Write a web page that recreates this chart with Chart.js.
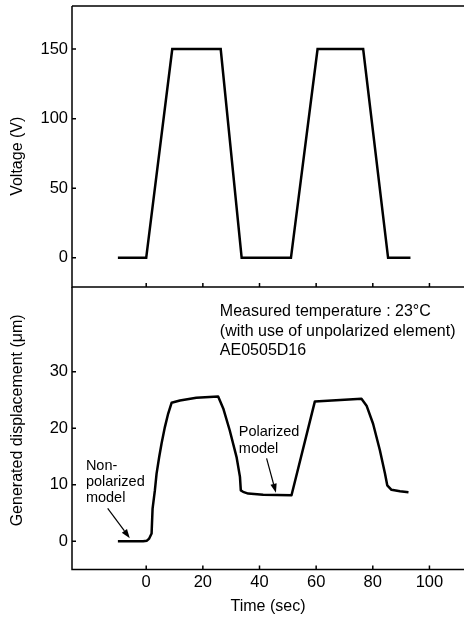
<!DOCTYPE html>
<html>
<head>
<meta charset="utf-8">
<title>Voltage and displacement vs time</title>
<script src="https://cdn.jsdelivr.net/npm/chart.js@4.4.1/dist/chart.umd.min.js"></script>
<style>
    html, body { margin: 0; padding: 0; background: #fff; }
    #wrap { position: relative; width: 464px; height: 617px; }
    #wrap canvas { position: absolute; left: 0; top: 0; }
</style>
</head>
<body>
<div id="wrap">
    <canvas id="voltageChart" width="464" height="617"></canvas>
    <canvas id="dispChart" width="464" height="617"></canvas>
</div>
<script>
// tick values
const timeTicks = [0, 20, 40, 60, 80, 100];
const voltageTicks = [0, 50, 100, 150];
const dispTicks = [0, 10, 20, 30];

// applied voltage (V) over time (sec)
const voltageTime = [-10, 0, 9.2, 26.3, 33.7, 51.1, 60.5, 76.6, 85.4, 93.3];
const voltageValues = [0, 0, 150, 150, 0, 0, 150, 150, 0, 0];

// generated displacement (um) over time (sec)
const dispTime = [-10, -1.1, 0.25, 1.05, 1.9, 2.25, 3.06, 3.66, 4.58, 5.42,
                  6.59, 7.76, 8.96, 11.9, 17.7, 25.4, 27.2, 29.5, 31.9, 33.1,
                  33.4, 34.2, 36.0, 41.3, 51.3, 59.55, 76.0, 77.8, 80.1, 82.5,
                  84.3, 85.1, 86.6, 89.6, 92.6];
const dispValues = [0, 0, 0.1, 0.48, 1.36, 5.78, 9.0, 11.97, 14.9, 17.3,
                    20.2, 22.6, 24.5, 24.9, 25.4, 25.6, 23.5, 19.6, 14.9, 11.4,
                    9.0, 8.75, 8.43, 8.25, 8.13, 24.75, 25.2, 24.0, 20.8, 16.1,
                    12.0, 9.9, 9.1, 8.84, 8.66];

const FONT = "'Liberation Sans', Arial, Helvetica, sans-serif";
const TIME_MIN = -26.2;
const TIME_MAX = 112.2;

// frame edges, inward tick marks, rotated y title, notes and arrows
const framePlugin = {
    id: 'frame',
    afterDraw(chart, args, opts) {
        const ctx = chart.ctx;
        const a = chart.chartArea;
        const xs = chart.scales.x;
        const ys = chart.scales.y;

        ctx.save();
        ctx.strokeStyle = '#000';
        ctx.fillStyle = '#000';
        ctx.lineWidth = 1.5;
        ctx.beginPath();
        ctx.moveTo(a.left, a.top);
        ctx.lineTo(a.left, a.bottom);
        ctx.lineTo(a.right, a.bottom);
        if (opts.topEdge) {
            ctx.moveTo(a.left, a.top);
            ctx.lineTo(a.right, a.top);
        }
        xs.ticks.forEach(t => {
            const px = xs.getPixelForValue(t.value);
            ctx.moveTo(px, a.bottom);
            ctx.lineTo(px, a.bottom - 4);
        });
        ys.ticks.forEach(t => {
            const py = ys.getPixelForValue(t.value);
            ctx.moveTo(a.left, py);
            ctx.lineTo(a.left + 4, py);
        });
        ctx.stroke();

        // y axis title
        if (opts.yTitle) {
            ctx.save();
            ctx.translate(18, ys.getPixelForValue(opts.yTitle.at));
            ctx.rotate(-Math.PI / 2);
            ctx.font = '16px ' + FONT;
            ctx.textAlign = 'center';
            ctx.textBaseline = 'middle';
            ctx.fillText(opts.yTitle.text, 0, 0);
            ctx.restore();
        }

        // text notes
        (opts.notes || []).forEach(n => {
            ctx.font = n.size + 'px ' + FONT;
            ctx.textAlign = 'left';
            ctx.textBaseline = 'alphabetic';
            const x0 = xs.getPixelForValue(n.x);
            const y0 = ys.getPixelForValue(n.y);
            n.lines.forEach((line, i) => ctx.fillText(line, x0, y0 + i * n.gap));
        });

        // pointer arrows
        ctx.lineWidth = 1.2;
        (opts.arrows || []).forEach(ar => {
            const x1 = xs.getPixelForValue(ar.from[0]), y1 = ys.getPixelForValue(ar.from[1]);
            const x2 = xs.getPixelForValue(ar.to[0]), y2 = ys.getPixelForValue(ar.to[1]);
            const ang = Math.atan2(y2 - y1, x2 - x1);
            const len = 9, half = 3.2;
            const bx = x2 - len * Math.cos(ang), by = y2 - len * Math.sin(ang);
            ctx.beginPath();
            ctx.moveTo(x1, y1);
            ctx.lineTo(bx, by);
            ctx.stroke();
            ctx.beginPath();
            ctx.moveTo(x2, y2);
            ctx.lineTo(bx + half * Math.sin(ang), by - half * Math.cos(ang));
            ctx.lineTo(bx - half * Math.sin(ang), by + half * Math.cos(ang));
            ctx.closePath();
            ctx.fill();
        });
        ctx.restore();
    }
};

function fixedTicks(values) {
    return function(scale) {
        scale.ticks = values.map(v => ({ value: v }));
    };
}

// fixed axis size, no extra room for overhanging labels
function fixedSize(w, h) {
    return function(scale) {
        if (w !== null) scale.width = w;
        if (h !== null) scale.height = h;
        scale.paddingTop = 0;
        scale.paddingBottom = 0;
        scale.paddingLeft = 0;
        scale.paddingRight = 0;
    };
}

function toPoints(xs, ys) {
    return xs.map((x, i) => ({ x: x, y: ys[i] }));
}

// upper panel: voltage
new Chart(document.getElementById('voltageChart'), {
    type: 'line',
    data: {
        datasets: [{
            data: toPoints(voltageTime, voltageValues),
            borderColor: '#000',
            borderWidth: 2.5,
            borderJoinStyle: 'miter',
            pointRadius: 0,
            tension: 0,
            fill: false
        }]
    },
    options: {
        responsive: false,
        animation: false,
        layout: { padding: { top: 6, bottom: 330, left: 0, right: 0 } },
        plugins: {
            legend: { display: false },
            tooltip: { enabled: false },
            frame: {
                topEdge: true,
                yTitle: { text: 'Voltage (V)', at: 73 }
            }
        },
        scales: {
            x: {
                type: 'linear',
                min: TIME_MIN,
                max: TIME_MAX,
                afterBuildTicks: fixedTicks(timeTicks),
                afterFit: fixedSize(null, 0),
                ticks: { display: false },
                grid: { display: false, drawTicks: false },
                border: { display: false }
            },
            y: {
                min: -21,
                max: 181,
                afterBuildTicks: fixedTicks(voltageTicks),
                afterFit: fixedSize(72, null),
                ticks: { color: '#000', padding: 4, font: { family: FONT, size: 16.5 } },
                grid: { display: false, drawTicks: false },
                border: { display: false }
            }
        }
    },
    plugins: [framePlugin]
});

// lower panel: generated displacement
new Chart(document.getElementById('dispChart'), {
    type: 'line',
    data: {
        datasets: [{
            data: toPoints(dispTime, dispValues),
            borderColor: '#000',
            borderWidth: 2.5,
            borderJoinStyle: 'round',
            pointRadius: 0,
            tension: 0,
            fill: false
        }]
    },
    options: {
        responsive: false,
        animation: false,
        layout: { padding: { top: 287, bottom: 0, left: 0, right: 0 } },
        plugins: {
            legend: { display: false },
            tooltip: { enabled: false },
            frame: {
                topEdge: false,
                yTitle: { text: 'Generated displacement (\u03bcm)', at: 21.4 },
                notes: [
                    { lines: ['Measured temperature : 23\u00b0C', '(with use of unpolarized element)', 'AE0505D16'],
                      x: 26.0, y: 39.8, size: 16, gap: 19.5 },
                    { lines: ['Non-', 'polarized', 'model'], x: -21.3, y: 12.6, size: 14.5, gap: 16 },
                    { lines: ['Polarized', 'model'], x: 32.7, y: 18.6, size: 14.5, gap: 16.5 }
                ],
                arrows: [
                    { from: [-13.6, 5.83], to: [-5.8, 0.55] },
                    { from: [42.5, 14.67], to: [45.8, 8.6] }
                ]
            }
        },
        scales: {
            x: {
                type: 'linear',
                min: TIME_MIN,
                max: TIME_MAX,
                afterBuildTicks: fixedTicks(timeTicks),
                afterFit: fixedSize(null, 47.5),
                ticks: { color: '#000', padding: 3, maxRotation: 0, font: { family: FONT, size: 16.5 } },
                grid: { display: false, drawTicks: false },
                border: { display: false },
                title: {
                    display: true,
                    text: 'Time (sec)',
                    color: '#000',
                    font: { family: FONT, size: 16 },
                    padding: { top: 0, bottom: 1 }
                }
            },
            y: {
                min: -5,
                max: 45,
                afterBuildTicks: fixedTicks(dispTicks),
                afterFit: fixedSize(72, null),
                ticks: { color: '#000', padding: 4, font: { family: FONT, size: 16.5 } },
                grid: { display: false, drawTicks: false },
                border: { display: false }
            }
        }
    },
    plugins: [framePlugin]
});
</script>
</body>
</html>
